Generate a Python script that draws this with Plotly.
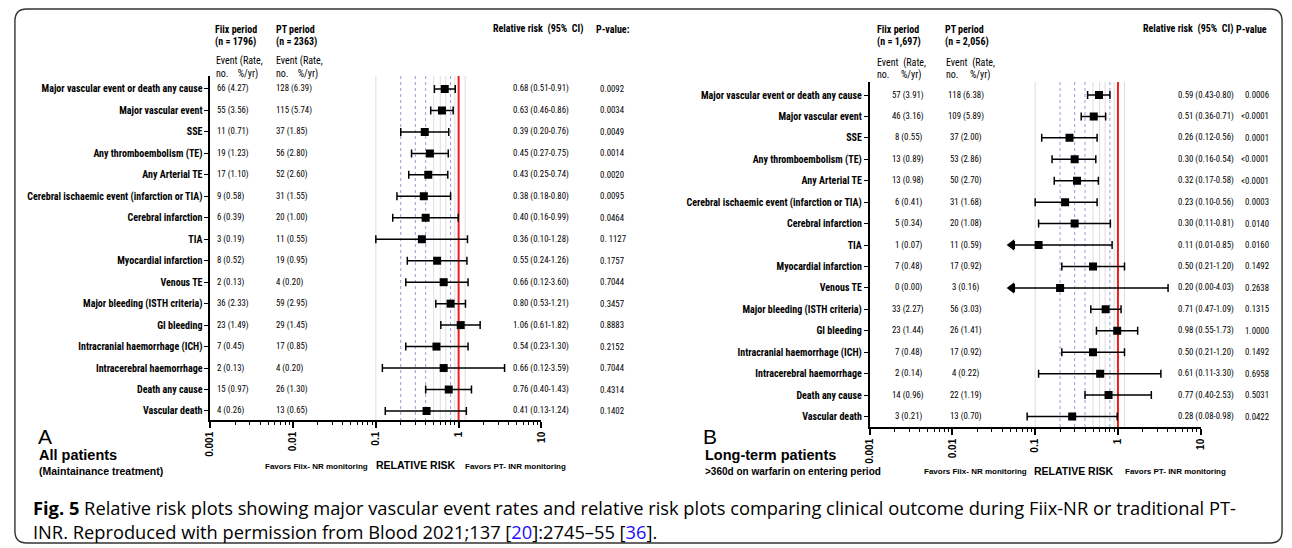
import plotly.graph_objects as go

W, H = 1292, 548

# ---------------- data ----------------
outcomes = [
    "Major vascular event or death any cause", "Major vascular event", "SSE",
    "Any thromboembolism (TE)", "Any Arterial TE",
    "Cerebral ischaemic event (infarction or TIA)", "Cerebral infarction", "TIA",
    "Myocardial infarction", "Venous TE", "Major bleeding (ISTH criteria)",
    "GI bleeding", "Intracranial haemorrhage (ICH)", "Intracerebral haemorrhage",
    "Death any cause", "Vascular death",
]

# Panel A - all patients
a_fiix_n = [66, 55, 11, 19, 17, 9, 6, 3, 8, 2, 36, 23, 7, 2, 15, 4]
a_fiix_rate = [4.27, 3.56, 0.71, 1.23, 1.10, 0.58, 0.39, 0.19, 0.52, 0.13, 2.33, 1.49, 0.45, 0.13, 0.97, 0.26]
a_pt_n = [128, 115, 37, 56, 52, 31, 20, 11, 19, 4, 59, 29, 17, 4, 26, 13]
a_pt_rate = [6.39, 5.74, 1.85, 2.80, 2.60, 1.55, 1.00, 0.55, 0.95, 0.20, 2.95, 1.45, 0.85, 0.20, 1.30, 0.65]
a_rr = [0.68, 0.63, 0.39, 0.45, 0.43, 0.38, 0.40, 0.36, 0.55, 0.66, 0.80, 1.06, 0.54, 0.66, 0.76, 0.41]
a_lo = [0.51, 0.46, 0.20, 0.27, 0.25, 0.18, 0.16, 0.10, 0.24, 0.12, 0.53, 0.61, 0.23, 0.12, 0.40, 0.13]
a_hi = [0.91, 0.86, 0.76, 0.75, 0.74, 0.80, 0.99, 1.28, 1.26, 3.60, 1.21, 1.82, 1.30, 3.59, 1.43, 1.24]
# bar ends as drawn in the picture (Venous TE bar drawn narrower than its label)
a_bar_lo = [0.51, 0.46, 0.20, 0.27, 0.25, 0.18, 0.16, 0.10, 0.24, 0.23, 0.53, 0.61, 0.23, 0.12, 0.40, 0.13]
a_bar_hi = [0.91, 0.86, 0.76, 0.75, 0.74, 0.80, 0.99, 1.28, 1.26, 1.30, 1.21, 1.82, 1.30, 3.59, 1.43, 1.24]
a_p = ["0.0092", "0.0034", "0.0049", "0.0014", "0.0020", "0.0095", "0.0464", "0. 1127",
       "0.1757", "0.7044", "0.3457", "0.8883", "0.2152", "0.7044", "0.4314", "0.1402"]

# Panel B - long-term patients
b_fiix_n = [57, 46, 8, 13, 13, 6, 5, 1, 7, 0, 33, 23, 7, 2, 14, 3]
b_fiix_rate = [3.91, 3.16, 0.55, 0.89, 0.98, 0.41, 0.34, 0.07, 0.48, 0.00, 2.27, 1.44, 0.48, 0.14, 0.96, 0.21]
b_pt_n = [118, 109, 37, 53, 50, 31, 20, 11, 17, 3, 56, 26, 17, 4, 22, 13]
b_pt_rate = [6.38, 5.89, 2.00, 2.86, 2.70, 1.68, 1.08, 0.59, 0.92, 0.16, 3.03, 1.41, 0.92, 0.22, 1.19, 0.70]
b_rr = [0.59, 0.51, 0.26, 0.30, 0.32, 0.23, 0.30, 0.11, 0.50, 0.20, 0.71, 0.98, 0.50, 0.61, 0.77, 0.28]
b_lo = [0.43, 0.36, 0.12, 0.16, 0.17, 0.10, 0.11, 0.01, 0.21, 0.00, 0.47, 0.55, 0.21, 0.11, 0.40, 0.08]
b_hi = [0.80, 0.71, 0.56, 0.54, 0.58, 0.56, 0.81, 0.85, 1.20, 4.03, 1.09, 1.73, 1.20, 3.30, 2.53, 0.98]
b_p = ["0.0006", "<0.0001", "0.0001", "<0.0001", "<0.0001", "0.0003", "0.0140", "0.0160",
       "0.1492", "0.2638", "0.1315", "1.0000", "0.1492", "0.6958", "0.5031", "0.0422"]

x_tick_vals = [0.001, 0.01, 0.1, 1, 10]
x_tick_text = ["0.001", "0.01", "0.1", "1", "10"]
grid_solid = [0.1, 0.5, 0.6, 0.7, 0.9, 1.2]
grid_dotted = [0.2, 0.3, 0.4, 0.8]
ref_line = 1
ARROW_BASE = 0.056  # display limit for truncated lower CIs

# ---------------- styling ----------------
NARROW = "Liberation Sans Narrow, Arial Narrow, Roboto Condensed, Roboto, sans-serif"
ARIAL = "Liberation Sans, Arial, Helvetica, sans-serif"
CAPTION = "Open Sans, Noto Sans, sans-serif"


def px_x(p):
    return p / W


def px_y(p):
    return 1 - p / H


annotations = []


def ann(text, x, y, size=9, family=NARROW, xanchor="left", yref="paper", color="black"):
    annotations.append(dict(
        text=text, x=px_x(x), y=(px_y(y) if yref == "paper" else y),
        xref="paper", yref=yref, xanchor=xanchor, yanchor="middle", align="left",
        showarrow=False, font=dict(size=size, family=family, color=color),
        borderpad=0,
    ))


fig = go.Figure()

panels = [
    dict(name="A", xa="x", ya="y", x0=206, x1=540, top=76, bot=420, yr=[15.42, -0.605],
         rr=a_rr, lo=a_bar_lo, hi=a_bar_hi,
         ci_text=[f"{r:.2f} ({l:.2f}-{h:.2f})" for r, l, h in zip(a_rr, a_lo, a_hi)]),
    dict(name="B", xa="x2", ya="y2", x0=871, x1=1205, top=82, bot=427, yr=[15.49, -0.607],
         rr=b_rr, lo=b_lo, hi=b_hi,
         ci_text=[f"{r:.2f} ({l:.2f}-{h:.2f})" for r, l, h in zip(b_rr, b_lo, b_hi)]),
]

rows = list(range(len(outcomes)))
minor_vals = [k * 10.0 ** e for e in range(-3, 1) for k in range(2, 10)]

for pn in panels:
    yt, yb = pn["yr"][1], pn["yr"][0]
    # grid lines
    gx, gy = [], []
    for v in grid_solid:
        gx += [v, v, None]
        gy += [yt, yb, None]
    fig.add_trace(go.Scatter(x=gx, y=gy, mode="lines", line=dict(color="#dcdce2", width=1),
                             xaxis=pn["xa"], yaxis=pn["ya"], hoverinfo="skip", showlegend=False))
    gx, gy = [], []
    for v in grid_dotted:
        gx += [v, v, None]
        gy += [yt, yb, None]
    fig.add_trace(go.Scatter(x=gx, y=gy, mode="lines", line=dict(color="#9a9ad8", width=1, dash="dot"),
                             xaxis=pn["xa"], yaxis=pn["ya"], hoverinfo="skip", showlegend=False))
    fig.add_trace(go.Scatter(x=[ref_line, ref_line], y=[yt, yb], mode="lines",
                             line=dict(color="#ee1c1c", width=2),
                             xaxis=pn["xa"], yaxis=pn["ya"], hoverinfo="skip", showlegend=False))
    # points with CIs
    lo_draw = [max(l, ARROW_BASE) for l in pn["lo"]]
    fig.add_trace(go.Scatter(
        x=pn["rr"], y=rows, mode="markers",
        marker=dict(symbol="square", size=8, color="black"),
        error_x=dict(type="data", symmetric=False,
                     array=[h - r for h, r in zip(pn["hi"], pn["rr"])],
                     arrayminus=[r - l for r, l in zip(pn["rr"], lo_draw)],
                     thickness=1.5, width=4, color="black"),
        xaxis=pn["xa"], yaxis=pn["ya"], showlegend=False))
    clipped = [i for i, l in enumerate(pn["lo"]) if l < ARROW_BASE]
    if clipped:
        fig.add_trace(go.Scatter(
            x=[ARROW_BASE * 0.93] * len(clipped), y=clipped, mode="markers",
            marker=dict(symbol="triangle-left", size=10, color="black"),
            xaxis=pn["xa"], yaxis=pn["ya"], showlegend=False, hoverinfo="skip"))

axis_common_x = dict(
    type="log", range=[-3, 1], showline=True, linecolor="black", linewidth=1.5,
    ticks="outside", ticklen=6, tickwidth=1.5, tickcolor="black",
    tickvals=x_tick_vals, ticktext=[f"<b>{t}</b>" for t in x_tick_text],
    tickangle=-90, tickfont=dict(family=ARIAL, size=10, color="black"),
    showgrid=False, zeroline=False, fixedrange=True,
    minor=dict(ticks="outside", ticklen=3, tickwidth=1, tickcolor="black", tickvals=minor_vals, showgrid=False),
)
axis_common_y = dict(
    showline=True, linecolor="black", linewidth=1.5, ticks="outside", ticklen=4,
    tickwidth=1.2, tickcolor="black", tickvals=rows,
    ticktext=[f"<b>{o}</b>" for o in outcomes],
    tickfont=dict(family=NARROW, size=10, color="black"),
    showgrid=False, zeroline=False, fixedrange=True,
)

pA, pB = panels
fig.update_layout(
    xaxis=dict(axis_common_x, domain=[px_x(pA["x0"]), px_x(pA["x1"])], anchor="y"),
    yaxis=dict(axis_common_y, domain=[px_y(pA["bot"]), px_y(pA["top"])], range=pA["yr"], anchor="x"),
    xaxis2=dict(axis_common_x, domain=[px_x(pB["x0"]), px_x(pB["x1"])], anchor="y2"),
    yaxis2=dict(axis_common_y, domain=[px_y(pB["bot"]), px_y(pB["top"])], range=pB["yr"], anchor="x2"),
)

# ---------------- column texts ----------------
DATA_SIZE = 8.8
for i in rows:
    ann(f"{a_fiix_n[i]} ({a_fiix_rate[i]:.2f})", 212, i, DATA_SIZE, yref="y")
    ann(f"{a_pt_n[i]} ({a_pt_rate[i]:.2f})", 271, i, DATA_SIZE, yref="y")
    ann(pA["ci_text"][i], 510, i, DATA_SIZE, yref="y")
    ann(a_p[i], 598, i, DATA_SIZE, yref="y")
    ann(f"{b_fiix_n[i]} ({b_fiix_rate[i]:.2f})", 910, i, DATA_SIZE, xanchor="center", yref="y2")
    ann(f"{b_pt_n[i]} ({b_pt_rate[i]:.2f})", 968, i, DATA_SIZE, xanchor="center", yref="y2")
    ann(pB["ci_text"][i], 1181, i, DATA_SIZE, yref="y2")
    ann(b_p[i], 1275, i, DATA_SIZE, xanchor="right", yref="y2")

NB = "\u00a0"
HS = 10
# headers panel A
ann("<b>Fiix period</b>", 210, 29, HS)
ann(f"<b>(n{NB}={NB}1796)</b>", 210, 42, HS)
ann("<b>PT period</b>", 271, 29, HS)
ann(f"<b>(n{NB}={NB}2363)</b>", 271, 42, HS)
ann("Event (Rate,", 211, 61, HS)
ann(f"no.{NB*4}%/yr)", 211, 74, HS)
ann("Event (Rate,", 271, 61, HS)
ann(f"no.{NB*4}%/yr)", 271, 74, HS)
ann(f"<b>Relative risk{NB*2}(95%{NB*2}CI)</b>", 490, 29, HS)
ann("<b>P-value:</b>", 594, 29, HS)
# headers panel B
ann("<b>Fiix period</b>", 877, 29, HS)
ann(f"<b>(n{NB}={NB}1,697)</b>", 877, 42, HS)
ann("<b>PT period</b>", 946, 29, HS)
ann(f"<b>(n{NB}={NB}2,056)</b>", 946, 42, HS)
ann(f"Event{NB*2}(Rate,", 877, 63, HS)
ann(f"no.{NB*5}%/yr)", 877, 75, HS)
ann(f"Event{NB*2}(Rate,", 947, 63, HS)
ann(f"no.{NB*5}%/yr)", 947, 75, HS)
ann(f"<b>Relative risk{NB*2}(95%{NB*2}CI)</b>", 1146, 29, HS)
ann("<b>P-value</b>", 1240, 29, HS)

# axis titles
for (xa, xb, xc, yy) in [(260, 372, 462, 466), (925, 1036, 1128, 472)]:
    ann("<b>Favors Fiix- NR monitoring</b>", xa, yy, 8, ARIAL)
    ann("<b>RELATIVE RISK</b>", xb, yy - 1, 10.5, ARIAL)
    ann("<b>Favors PT- INR monitoring</b>", xc, yy, 8, ARIAL)

# panel titles
ann("A", 31, 436, 21, ARIAL)
ann("<b>All patients</b>", 32, 455, 14.5, ARIAL)
ann("<b>(Maintainance treatment)</b>", 32, 471, 10.5, ARIAL)
ann("B", 702, 436, 21, ARIAL)
ann("<b>Long-term patients</b>", 704, 455, 14.5, ARIAL)
ann("<b>&gt;360d on warfarin on entering period</b>", 704, 471, 10, ARIAL)

# caption (one text block, two lines)
CAP_SIZE = 18.3
ann("<b>Fig. 5</b> Relative risk plots showing major vascular event rates and relative risk plots "
    "comparing clinical outcome during Fiix-NR or traditional PT-<br>"
    "INR. Reproduced with permission from Blood 2021;137 [<span style='color:#1a0dff'>20</span>]:2745–55 "
    "[<span style='color:#1a0dff'>36</span>].", 26, 519, CAP_SIZE, CAPTION)

# rounded frame
L, R, T, B = px_x(9), px_x(1287), px_y(9), px_y(543)
rx, ry = 12 / W, 12 / H
frame = (f"M {L+rx},{T} L {R-rx},{T} Q {R},{T} {R},{T-ry} L {R},{B+ry} Q {R},{B} {R-rx},{B} "
         f"L {L+rx},{B} Q {L},{B} {L},{B+ry} L {L},{T-ry} Q {L},{T} {L+rx},{T} Z")

fig.update_layout(
    width=W, height=H, margin=dict(l=0, r=0, t=0, b=0),
    paper_bgcolor="white", plot_bgcolor="white", showlegend=False,
    annotations=annotations,
    shapes=[dict(type="path", path=frame, xref="paper", yref="paper",
                 line=dict(color="#333333", width=1.4))],
)

fig.write_html("out.html", config={"displayModeBar": False},
               post_script="document.body.style.margin='0';document.body.style.overflow='hidden';")
